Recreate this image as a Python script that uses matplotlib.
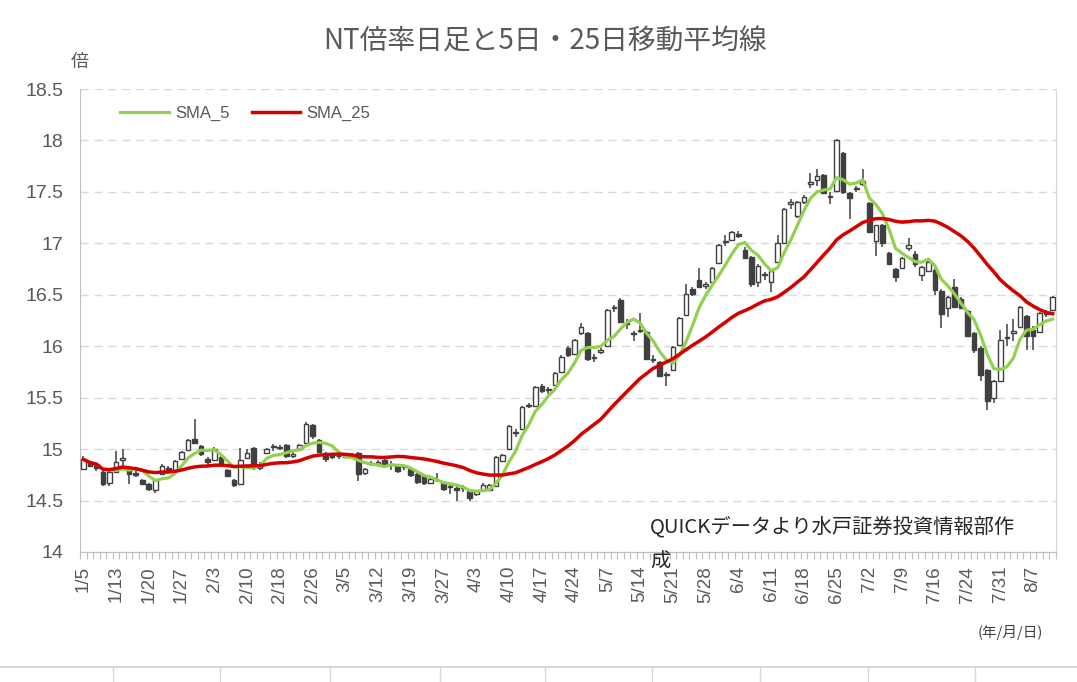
import matplotlib.pyplot as plt
from matplotlib.lines import Line2D
from matplotlib.ticker import FuncFormatter, MultipleLocator
import numpy as np
import pandas as pd

plt.rcParams['font.family'] = ['Liberation Sans', 'Noto Sans CJK JP', 'DejaVu Sans']

# labels shown every 5th trading day
date_labels = ['1/5', '1/13', '1/20', '1/27', '2/3', '2/10', '2/18', '2/26', '3/5', '3/12',
               '3/19', '3/27', '4/3', '4/10', '4/17', '4/24', '5/7', '5/14', '5/21', '5/28',
               '6/4', '6/11', '6/18', '6/25', '7/2', '7/9', '7/16', '7/24', '7/31', '8/7']

# daily NT ratio candles
opens = [14.81, 14.87, 14.86, 14.78, 14.67, 14.78, 14.89, 14.81, 14.77, 14.70,
         14.66, 14.60, 14.76, 14.82, 14.79, 14.90, 14.99, 15.10, 15.03, 14.90,
         14.89, 14.92, 14.80, 14.70, 14.66, 14.91, 15.01, 14.82, 14.96, 15.02,
         15.02, 15.04, 14.93, 15.00, 15.06, 15.23, 15.09, 14.96, 14.93, 14.93,
         14.95, 14.95, 14.96, 14.77, 14.86, 14.86, 14.89, 14.86, 14.85, 14.83,
         14.81, 14.76, 14.74, 14.67, 14.70, 14.67, 14.64, 14.62, 14.63, 14.59,
         14.56, 14.60, 14.60, 14.64, 14.88, 15.00, 15.16, 15.20, 15.42, 15.42,
         15.61, 15.57, 15.62, 15.75, 15.98, 15.92, 16.13, 16.13, 15.89, 15.94,
         16.00, 16.37, 16.45, 16.22, 16.13, 16.15, 16.14, 15.88, 15.85, 15.73,
         15.77, 16.01, 16.30, 16.56, 16.64, 16.59, 16.62, 16.81, 17.01, 17.03,
         17.09, 16.94, 16.87, 16.62, 16.69, 16.62, 16.82, 17.00, 17.38, 17.27,
         17.40, 17.58, 17.62, 17.66, 17.46, 17.51, 17.88, 17.49, 17.53, 17.58,
         17.39, 17.02, 17.18, 16.91, 16.75, 16.76, 16.95, 16.90, 16.69, 16.73,
         16.74, 16.54, 16.37, 16.58, 16.46, 16.34, 16.13, 15.98, 15.77, 15.50,
         15.66, 16.08, 16.13, 16.19, 16.29, 16.16, 16.14, 16.31, 16.35]
highs = [14.93, 14.88, 14.87, 14.79, 14.79, 14.98, 15.00, 14.84, 14.80, 14.71,
         14.67, 14.71, 14.86, 14.84, 14.89, 14.98, 15.10, 15.29, 15.04, 14.92,
         15.02, 14.93, 14.81, 14.71, 15.01, 15.00, 15.02, 14.87, 15.01, 15.05,
         15.04, 15.05, 14.97, 15.05, 15.26, 15.24, 15.10, 14.97, 14.95, 14.95,
         14.96, 14.96, 14.97, 14.82, 14.88, 14.89, 14.90, 14.88, 14.86, 14.85,
         14.82, 14.78, 14.76, 14.73, 14.77, 14.68, 14.66, 14.64, 14.65, 14.60,
         14.60, 14.67, 14.66, 14.93, 14.95, 15.23, 15.20, 15.42, 15.45, 15.61,
         15.63, 15.60, 15.75, 15.91, 16.00, 16.07, 16.23, 16.14, 15.92, 15.98,
         16.36, 16.40, 16.47, 16.26, 16.15, 16.32, 16.15, 15.91, 15.86, 15.75,
         16.00, 16.28, 16.60, 16.58, 16.76, 16.62, 16.77, 16.99, 17.08, 17.12,
         17.12, 16.96, 16.88, 16.80, 16.72, 16.74, 17.08, 17.34, 17.43, 17.41,
         17.47, 17.68, 17.72, 17.67, 17.50, 18.01, 17.89, 17.50, 17.56, 17.72,
         17.40, 17.18, 17.19, 16.92, 16.76, 16.87, 17.05, 16.93, 16.78, 16.84,
         16.76, 16.56, 16.49, 16.65, 16.48, 16.35, 16.14, 16.00, 15.78, 15.67,
         16.16, 16.22, 16.26, 16.39, 16.30, 16.20, 16.33, 16.35, 16.49]
lows = [14.80, 14.83, 14.79, 14.64, 14.64, 14.77, 14.80, 14.66, 14.73, 14.65,
        14.59, 14.57, 14.75, 14.76, 14.78, 14.89, 14.98, 15.05, 14.93, 14.85,
        14.88, 14.84, 14.73, 14.63, 14.65, 14.90, 14.80, 14.80, 14.95, 14.98,
        14.99, 14.91, 14.91, 14.99, 15.05, 15.10, 14.96, 14.87, 14.90, 14.90,
        14.91, 14.91, 14.69, 14.75, 14.84, 14.84, 14.83, 14.80, 14.77, 14.80,
        14.73, 14.66, 14.65, 14.66, 14.68, 14.59, 14.56, 14.50, 14.58, 14.50,
        14.54, 14.59, 14.59, 14.63, 14.87, 14.99, 15.12, 15.19, 15.40, 15.41,
        15.55, 15.54, 15.61, 15.74, 15.90, 15.91, 16.11, 15.86, 15.85, 15.92,
        15.99, 16.33, 16.23, 16.17, 16.05, 16.13, 15.87, 15.84, 15.70, 15.61,
        15.76, 16.00, 16.29, 16.49, 16.57, 16.56, 16.61, 16.80, 16.97, 17.02,
        17.05, 16.85, 16.58, 16.58, 16.64, 16.53, 16.81, 16.99, 17.33, 17.25,
        17.38, 17.54, 17.56, 17.48, 17.38, 17.50, 17.48, 17.24, 17.50, 17.56,
        17.10, 16.88, 16.96, 16.79, 16.62, 16.75, 16.93, 16.77, 16.63, 16.72,
        16.50, 16.18, 16.28, 16.37, 16.36, 16.09, 15.93, 15.66, 15.38, 15.45,
        15.65, 16.00, 16.05, 16.18, 15.96, 15.96, 16.13, 16.28, 16.34]
closes = [14.90, 14.84, 14.82, 14.66, 14.78, 14.87, 14.91, 14.76, 14.75, 14.66,
          14.61, 14.70, 14.84, 14.79, 14.88, 14.97, 15.09, 15.06, 14.95, 14.87,
          15.00, 14.86, 14.74, 14.65, 14.89, 14.96, 14.85, 14.85, 15.00, 15.03,
          15.01, 14.93, 14.95, 15.04, 15.24, 15.13, 14.97, 14.90, 14.92, 14.93,
          14.92, 14.92, 14.76, 14.81, 14.86, 14.87, 14.85, 14.85, 14.79, 14.83,
          14.75, 14.68, 14.67, 14.71, 14.70, 14.61, 14.63, 14.60, 14.62, 14.52,
          14.59, 14.65, 14.65, 14.92, 14.94, 15.22, 15.17, 15.41, 15.43, 15.60,
          15.56, 15.58, 15.74, 15.90, 15.91, 16.06, 16.19, 15.88, 15.90, 15.96,
          16.35, 16.38, 16.24, 16.23, 16.12, 16.16, 15.88, 15.87, 15.71, 15.72,
          15.99, 16.27, 16.51, 16.51, 16.58, 16.60, 16.76, 16.98, 17.02, 17.11,
          17.07, 16.86, 16.60, 16.78, 16.70, 16.73, 17.00, 17.33, 17.40, 17.40,
          17.45, 17.60, 17.65, 17.49, 17.45, 18.00, 17.50, 17.44, 17.54, 17.61,
          17.11, 17.18, 17.00, 16.80, 16.67, 16.86, 16.98, 16.80, 16.77, 16.82,
          16.55, 16.31, 16.48, 16.38, 16.37, 16.10, 15.96, 15.72, 15.47, 15.66,
          16.06, 16.09, 16.15, 16.38, 16.10, 16.10, 16.32, 16.32, 16.48]

df = pd.DataFrame({'open': opens, 'high': highs, 'low': lows, 'close': closes})
df['sma5'] = df['close'].rolling(5, min_periods=1).mean()
df['sma25'] = df['close'].rolling(25, min_periods=1).mean()

W, H = 1077, 682
fig = plt.figure(figsize=(W / 100, H / 100), dpi=100)
ax = fig.add_axes([80 / W, 130 / H, 976 / W, 463 / H])

x = np.arange(len(df))
up = (df['close'] >= df['open']).values
body_lo = np.minimum(df['open'], df['close']).values
body_h = np.maximum(np.abs(df['close'] - df['open']).values, 0.004)

edge = '#404040'
ax.vlines(x, df['low'], df['high'], color=edge, lw=1.1, zorder=2)
ax.bar(x[up], body_h[up], bottom=body_lo[up], width=0.7, color='white',
       edgecolor=edge, lw=1.0, zorder=3)
ax.bar(x[~up], body_h[~up], bottom=body_lo[~up], width=0.7, color=edge,
       edgecolor=edge, lw=1.0, zorder=3)

ax.plot(x, df['sma5'], color='#92D050', lw=2.3, label='SMA_5', zorder=4,
        solid_joinstyle='round')
ax.plot(x, df['sma25'], color='#D40000', lw=2.5, label='SMA_25', zorder=5,
        solid_joinstyle='round')

ax.set_xlim(-0.5, len(df) - 0.5)
ax.set_ylim(14, 18.5)
ax.yaxis.set_major_locator(MultipleLocator(0.5))
ax.yaxis.set_major_formatter(FuncFormatter(lambda v, p: f'{v:g}'))
ax.yaxis.grid(True, ls=(0, (6, 4)), color='#D9D9D9', lw=1.0, zorder=0)
ax.set_axisbelow(True)

ax.set_xticks(x[::5])
ax.set_xticklabels(date_labels, rotation=90, fontsize=13.5, color='#595959')
ax.set_xticks(np.arange(-0.5, len(df), 1), minor=True)
ax.tick_params(axis='x', which='major', length=0, pad=10)
ax.tick_params(axis='x', which='minor', length=5, color='#BFBFBF', width=0.8)
ax.tick_params(axis='y', length=0, labelsize=14, labelcolor='#595959', pad=12)

ax.spines['top'].set_visible(False)
ax.spines['left'].set_color('#BFBFBF')
ax.spines['bottom'].set_color('#BFBFBF')
ax.spines['right'].set_color('#D9D9D9')

ax.legend(loc='upper left', bbox_to_anchor=(0.026, 0.995), ncol=2, frameon=False,
          handlelength=2.9, fontsize=12, columnspacing=1.3, handletextpad=0.4,
          labelcolor='#595959')

jp = ['Noto Sans CJK JP', 'DejaVu Sans']
fig.text(545 / W, 1 - 42 / H, 'NT倍率日足と5日・25日移動平均線', family=jp, fontsize=20,
         color='#595959', ha='center', va='center')
fig.text(80 / W, 1 - 62 / H, '倍', family=jp, fontsize=13, color='#595959',
         ha='center', va='center')
fig.text(650 / W, 1 - 527 / H, 'QUICKデータより水戸証券投資情報部作', family=jp,
         fontsize=14.6, color='#262626', ha='left', va='center')
fig.text(650 / W, 1 - 562 / H, '成', family=jp, fontsize=14.6, color='#262626',
         ha='left', va='center')
fig.text(1010 / W, 1 - 632 / H, '(年/月/日)', family=jp, fontsize=10.5, color='#404040',
         ha='center', va='center')

# spreadsheet cell lines under the chart object
fig.add_artist(Line2D([0, 1], [1 - 667 / H, 1 - 667 / H], color='#D0D0D0', lw=1.2))
for cx in [113, 220, 330, 440, 545, 652, 760, 868, 975]:
    fig.add_artist(Line2D([cx / W, cx / W], [0, 1 - 667 / H], color='#D8D8D8', lw=1))

fig.savefig('out.png', dpi=100)
